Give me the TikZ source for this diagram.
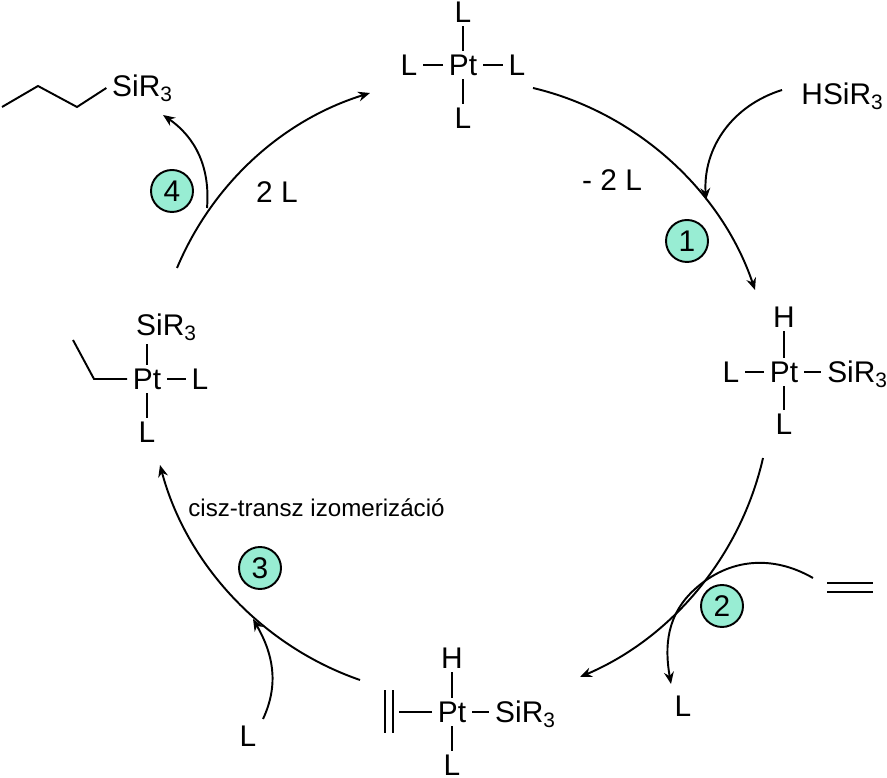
\documentclass[tikz,border=0pt]{standalone}
\usepackage{fontspec}
\setmainfont{Liberation Sans}
\usetikzlibrary{arrows.meta}
\newcommand{\sir}{SiR\textsubscript{3}}
\definecolor{stepgreen}{HTML}{98EDD3}
\tikzset{
	>={Stealth[length=3.4pt,width=2.8pt]},
	every path/.style={line width=0.55pt},
	atom/.style={inner xsep=1.4pt,inner ysep=0.8pt,font=\fontsize{8.5}{10}\selectfont},
	stepnum/.style={circle,draw,fill=stepgreen,minimum size=0.42cm,inner sep=0pt,font=\fontsize{8.5}{10}\selectfont}
}

\begin{document}
\begin{tikzpicture}
	\useasboundingbox (0,0) rectangle (8.87,7.77);
	% top complex
	\node[atom] (pta) at (4.63,7.12) {Pt};
	\node[atom] (lan) at (4.63,7.65) {L};
	\node[atom] (law) at (4.09,7.12) {L};
	\node[atom] (lae) at (5.17,7.12) {L};
	\node[atom] (las) at (4.63,6.59) {L};
	\draw (pta) to (lan);
	\draw (pta) to (law);
	\draw (pta) to (lae);
	\draw (pta) to (las);
	% right complex
	\node[atom] (ptb) at (7.84,4.05) {Pt};
	\node[atom] (hb) at (7.84,4.60) {H};
	\node[atom] (lbw) at (7.31,4.05) {L};
	\node[atom] (sirb) at (8.58,4.03) {\sir};
	\node[atom] (lbs) at (7.84,3.53) {L};
	\draw (ptb) to (hb);
	\draw (ptb) to (lbw);
	\draw (ptb) to (ptb -| sirb.west);
	\draw (ptb) to (lbs);
	% bottom complex
	\node[atom] (ptc) at (4.52,0.65) {Pt};
	\node[atom] (hc) at (4.52,1.19) {H};
	\node[atom] (lcs) at (4.52,0.12) {L};
	\node[atom] (sirc) at (5.26,0.63) {\sir};
	\coordinate (ena) at (3.85,0.87);
	\coordinate (enb) at (3.85,0.44);
	\coordinate (enc) at (3.93,0.87);
	\coordinate (end) at (3.93,0.44);
	\coordinate (ene) at (3.99,0.65);
	\draw (ena) to (enb);
	\draw (enc) to (end);
	\draw (ptc) to (hc);
	\draw (ptc) to (lcs);
	\draw (ptc) to (ptc -| sirc.west);
	\draw (ptc) to (ene);
	% left complex
	\node[atom] (ptd) at (1.47,3.98) {Pt};
	\node[atom] (sird) at (1.67,4.50) {\sir};
	\node[atom] (lde) at (2.00,3.98) {L};
	\node[atom] (lds) at (1.47,3.45) {L};
	\coordinate (eta) at (0.73,4.37);
	\coordinate (etb) at (0.94,3.98);
	\draw (eta) -- (etb) -- (ptd);
	\draw (ptd) to (ptd |- sird.south);
	\draw (ptd) to (lde);
	\draw (ptd) to (lds);
	% product
	\node[atom] (sire) at (1.43,6.89) {\sir};
	\coordinate (pra) at (0.02,6.70);
	\coordinate (prb) at (0.38,6.91);
	\coordinate (prc) at (0.77,6.70);
	\draw (pra) -- (prb) -- (prc) -- (sire.west);
	% cycle
	\coordinate (ca) at (5.33,6.89);
	\coordinate (cb) at (7.55,4.87);
	\coordinate (cc) at (7.63,3.19);
	\coordinate (cd) at (5.80,1.00);
	\coordinate (ce) at (3.60,0.97);
	\coordinate (cf) at (1.60,3.12);
	\coordinate (cg) at (1.77,5.09);
	\coordinate (ch) at (3.70,6.84);
	\draw[->] (ca) to[bend left=29,looseness=0.9] (cb);
	\draw[->] (cc) to[bend left=27,looseness=0.9] (cd);
	\draw[->] (ce) to[bend left=28,looseness=0.9] (cf);
	\draw[->] (cg) to[bend left=25,looseness=0.9] (ch);
	% reagents
	\node[atom] (hsi) at (8.43,6.81) {HSiR\textsubscript{3}};
	\node[atom] (lout) at (6.83,0.71) {L};
	\node[atom] (lin) at (2.48,0.41) {L};
	\coordinate (hsis) at (7.82,6.87);
	\coordinate (hsie) at (7.06,5.77);
	\draw[->] (hsis) to[bend right=38] (hsie);
	\coordinate (ena2) at (8.27,1.94);
	\coordinate (enb2) at (8.73,1.94);
	\coordinate (enc2) at (8.27,1.85);
	\coordinate (end2) at (8.73,1.85);
	\draw (ena2) to (enb2);
	\draw (enc2) to (end2);
	\coordinate (ins) at (8.13,1.99);
	\coordinate (inm) at (6.95,1.88);
	\coordinate (ine) at (6.71,0.93);
	\draw[->] (ins) to[out=150,in=42] (inm) to[out=222,in=100] (ine);
	\coordinate (lins) at (2.63,0.58);
	\coordinate (line) at (2.53,1.58);
	\draw[->] (lins) to[out=65,in=-60] (line);
	\coordinate (fours) at (2.07,5.69);
	\coordinate (foure) at (1.63,6.62);
	\draw[->] (fours) to[bend right=30] (foure);
	% labels
	\node[atom] (lossl) at (6.12,5.97) {- 2 L};
	\node[atom] (gainl) at (2.77,5.85) {2 L};
	\node[inner sep=0pt,font=\fontsize{6.87}{8}\selectfont] (isom) at (3.165,2.69) {cisz-transz izomerizáció};
	% steps
	\node[stepnum] (one) at (6.87,5.36) {1};
	\node[stepnum] (two) at (7.22,1.71) {2};
	\node[stepnum] (three) at (2.60,2.09) {3};
	\node[stepnum] (four) at (1.72,5.86) {4};
\end{tikzpicture}
\end{document}
